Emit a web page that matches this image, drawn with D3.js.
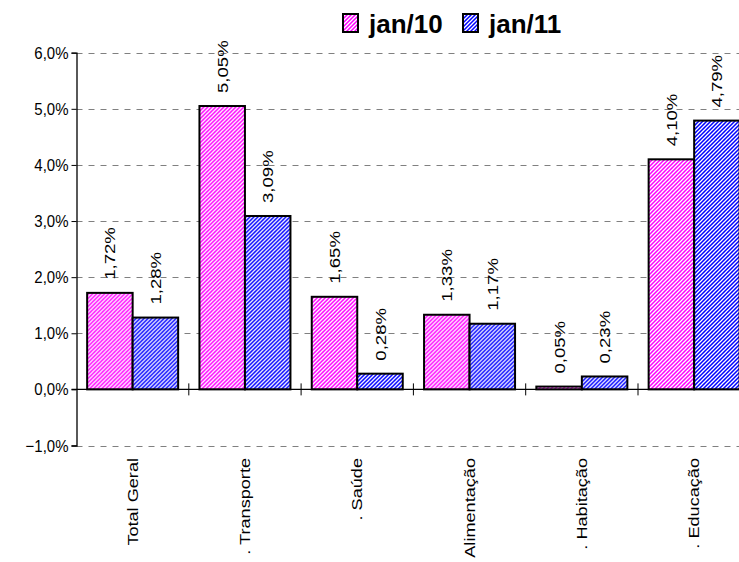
<!DOCTYPE html>
<html>
<head>
<meta charset="utf-8">
<script src="https://cdn.jsdelivr.net/npm/d3@7"></script>
<style>
  html, body { margin: 0; padding: 0; background: #fff; }
  svg { display: block; font-family: "Liberation Sans", Arial, sans-serif; }
</style>
</head>
<body>
<svg id="chart" width="739" height="562"></svg>
<script>
const categories = ["Total Geral", ". Transporte", ". Saúde", "Alimentação", ". Habitação", ". Educação"];
const seriesNames = ["jan/10", "jan/11"];
const jan10 = [1.72, 5.05, 1.65, 1.33, 0.05, 4.10];
const jan11 = [1.28, 3.09, 0.28, 1.17, 0.23, 4.79];
const yTicks = [-1, 0, 1, 2, 3, 4, 5, 6];
const colors = ["#ff00ff", "#0000ff"];

const svg = d3.select("#chart");
const W = 739, H = 562;
svg.append("rect").attr("width", W).attr("height", H).attr("fill", "#fff");

// diagonal hatch patterns
const defs = svg.append("defs");
colors.forEach((c, i) => {
  const p = defs.append("pattern").attr("id", "pat" + i)
    .attr("patternUnits", "userSpaceOnUse").attr("width", 4).attr("height", 4);
  p.append("rect").attr("width", 4).attr("height", 4).attr("fill", c);
  p.append("path").attr("d", "M-1,5 L5,-1 M-3,3 L3,-3 M1,7 L7,1")
    .attr("stroke", "#fff").attr("stroke-width", 1.3).attr("fill", "none");
});

const x0 = 76.5, step = 112.3;
const x = d3.scaleBand().domain(categories).range([x0, x0 + step * categories.length]).padding(0);
const x1 = d3.scaleBand().domain(seriesNames).range([0, x.bandwidth()]).paddingInner(0).paddingOuter(0.234);
const y = d3.scaleLinear().domain([-1, 6]).range([445.5, 52.7]);

// gridlines
svg.append("g").selectAll("line").data(yTicks.filter(t => t !== 0)).join("line")
  .attr("x1", x0).attr("x2", W)
  .attr("y1", d => Math.round(y(d)) + 0.5).attr("y2", d => Math.round(y(d)) + 0.5)
  .attr("stroke", "#808080").attr("stroke-width", 1).attr("stroke-dasharray", "6,6");

// y axis
const yAxis = d3.axisLeft(y).tickValues(yTicks).tickSize(5).tickPadding(4)
  .tickFormat(d => d3.format(".1f")(d).replace(".", ",") + "%");
const gy = svg.append("g").attr("transform", `translate(${x0},0)`).call(yAxis);
gy.select(".domain").attr("stroke", "#000").attr("stroke-width", 1.3);
gy.selectAll(".tick line").attr("stroke", "#000");
gy.selectAll(".tick text")
  .attr("font-size", 15).attr("fill", "#000")
  .attr("font-family", "'Liberation Sans', Arial, sans-serif")
  .attr("x", null).attr("dy", null)
  .attr("transform", "translate(-8,0) scale(1,1.12) translate(0,5)");

// bars
const data = categories.map((c, i) => ({ c, vals: [jan10[i], jan11[i]] }));
const groups = svg.append("g").selectAll("g").data(data).join("g")
  .attr("transform", d => `translate(${x(d.c)},0)`);
groups.selectAll("rect").data(d => d.vals.map((v, i) => ({ v, i }))).join("rect")
  .attr("x", d => x1(seriesNames[d.i]))
  .attr("width", x1.bandwidth())
  .attr("y", d => y(Math.max(0, d.v)))
  .attr("height", d => Math.abs(y(d.v) - y(0)))
  .attr("fill", d => `url(#pat${d.i})`)
  .attr("stroke", "#000").attr("stroke-width", 2);

// x axis line at 0
const zeroY = y(0);
svg.append("line").attr("x1", x0 - 5).attr("x2", W).attr("y1", zeroY).attr("y2", zeroY)
  .attr("stroke", "#000").attr("stroke-width", 1.3);
// x ticks between categories
svg.append("g").selectAll("line").data(categories.slice(1)).join("line")
  .attr("x1", d => x(d)).attr("x2", d => x(d))
  .attr("y1", zeroY - 6).attr("y2", zeroY + 6)
  .attr("stroke", "#000").attr("stroke-width", 1);

// value labels
groups.selectAll("text.val").data(d => d.vals.map((v, i) => ({ v, i }))).join("text")
  .attr("class", "val")
  .attr("transform", d => `translate(${x1(seriesNames[d.i]) + x1.bandwidth() / 2},${y(d.v) - 13}) rotate(-90) scale(1.2,1)`)
  .attr("dy", "0.36em")
  .attr("text-anchor", "start")
  .attr("font-size", 15.5).attr("fill", "#000")
  .text(d => d3.format(".2f")(d.v).replace(".", ",") + "%");

// category labels
svg.append("g").selectAll("text").data(categories).join("text")
  .attr("transform", d => `translate(${x(d) + x.bandwidth() / 2},458) rotate(-90) scale(1.25,1)`)
  .attr("dy", "0.36em")
  .attr("text-anchor", "end")
  .attr("font-size", 14.5).attr("fill", "#000")
  .text(d => d);

// legend
const legend = svg.append("g");
const legX = [343, 463];
seriesNames.forEach((s, i) => {
  legend.append("rect").attr("x", legX[i]).attr("y", 14).attr("width", 15).attr("height", 18)
    .attr("fill", `url(#pat${i})`).attr("stroke", "#000").attr("stroke-width", 2);
  legend.append("text").attr("x", legX[i] + 26).attr("y", 33)
    .attr("font-size", 26).attr("font-weight", "bold").attr("fill", "#000").text(s);
});
</script>
</body>
</html>
